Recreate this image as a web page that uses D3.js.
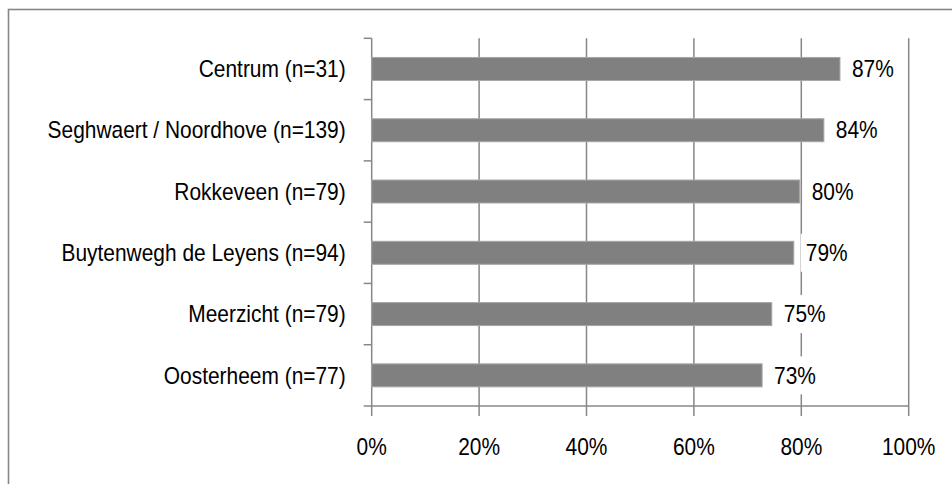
<!DOCTYPE html>
<html>
<head>
<meta charset="utf-8">
<script src="https://cdn.jsdelivr.net/npm/d3@7"></script>
<style>
  body { margin: 0; background: #fff; }
  text { font-family: "Liberation Sans", Arial, sans-serif; fill: #000; }
</style>
</head>
<body>
<div id="chart"></div>
<script>
// wijken en aandeel
const categories = ['Centrum (n=31)', 'Seghwaert / Noordhove (n=139)', 'Rokkeveen (n=79)',
    'Buytenwegh de Leyens (n=94)', 'Meerzicht (n=79)', 'Oosterheem (n=77)']
const values = [87.2, 84.2, 79.7, 78.6, 74.5, 72.7]
const xTicks = [0, 20, 40, 60, 80, 100]

let width = 952,
    height = 484

let plotLeft = 371.7, plotRight = 908.7, plotTop = 38.3, plotBottom = 406

let fontSize = 23.5, squeeze = 0.89
let lineColor = '#878787'

let svg = d3.select('#chart')
    .append('svg')
    .attr('width', width)
    .attr('height', height)

// chart border (open at right/bottom, like the cropped original)
svg.append('rect')
    .attr('x', 8.5).attr('y', 9.5)
    .attr('width', 1200).attr('height', 1200)
    .attr('fill', 'none')
    .attr('stroke', lineColor)
    .attr('stroke-width', 1.6)

let x = d3.scaleLinear().domain([0, 100]).range([plotLeft, plotRight])
let y = d3.scaleBand().domain(categories).range([plotTop, plotBottom])
    .paddingInner(0.625).paddingOuter(0.3125)

// gridlines incl. tick stubs below the axis
svg.selectAll('.grid')
    .data(xTicks)
    .enter().append('line')
    .attr('class', 'grid')
    .attr('x1', d => x(d)).attr('x2', d => x(d))
    .attr('y1', plotTop).attr('y2', plotBottom + 10)
    .attr('stroke', lineColor)
    .attr('stroke-width', 1.5)

// bottom axis line
svg.append('line')
    .attr('x1', x(0)).attr('x2', x(100))
    .attr('y1', plotBottom).attr('y2', plotBottom)
    .attr('stroke', lineColor)
    .attr('stroke-width', 1.5)

// category tick marks at band edges
let step = y.step()
let edges = d3.range(categories.length + 1).map(i => plotTop + i * step)
svg.selectAll('.ytick')
    .data(edges)
    .enter().append('line')
    .attr('x1', x(0) - 8).attr('x2', x(0))
    .attr('y1', d => d).attr('y2', d => d)
    .attr('stroke', lineColor)
    .attr('stroke-width', 1.5)

// bars
svg.selectAll('.bar')
    .data(values)
    .enter().append('rect')
    .attr('class', 'bar')
    .attr('x', x(0))
    .attr('y', (d, i) => y(categories[i]))
    .attr('width', d => x(d) - x(0))
    .attr('height', y.bandwidth())
    .attr('fill', '#808080')
    .attr('stroke', '#a6a6a6')
    .attr('stroke-width', 1)

function squeezedText(g, tx, ty, str, anchor) {
    return g.append('g')
        .attr('transform', 'translate(' + tx + ',' + ty + ') scale(' + squeeze + ',1)')
        .append('text')
        .attr('text-anchor', anchor)
        .attr('dy', '0.35em')
        .style('font-size', fontSize + 'px')
        .text(str)
}

// data labels with white background
values.forEach(function (d, i) {
    let cy = y(categories[i]) + y.bandwidth() / 2
    let lx = x(d) + 12
    let g = svg.append('g')
    let t = squeezedText(g, lx, cy, Math.round(d) + '%', 'start')
    let w = t.node().getComputedTextLength() * squeeze
    g.insert('rect', ':first-child')
        .attr('x', lx - 5).attr('y', cy - 19)
        .attr('width', w + 10).attr('height', 38)
        .attr('fill', '#fff')
})

// category labels
categories.forEach(function (c) {
    squeezedText(svg, x(0) - 26, y(c) + y.bandwidth() / 2, c, 'end')
})

// x tick labels
xTicks.forEach(function (t) {
    squeezedText(svg, x(t), 447, t + '%', 'middle')
})
</script>
</body>
</html>
